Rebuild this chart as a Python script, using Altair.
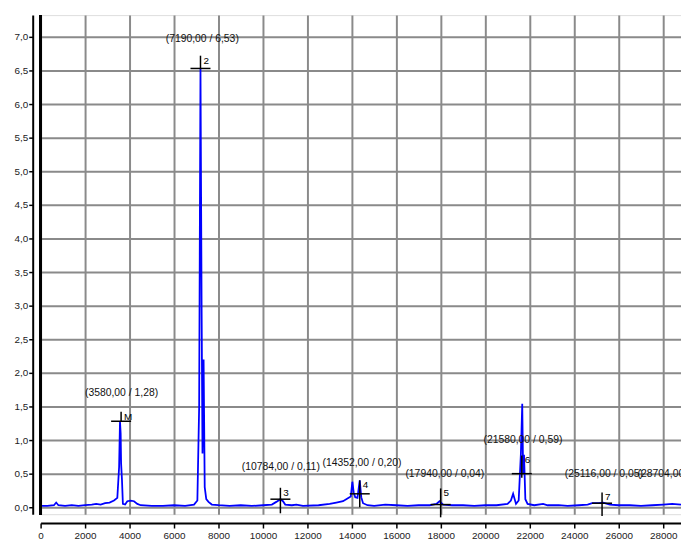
import altair as alt
import pandas as pd

# ---- trace ----
trace_x = [0, 300, 600, 700, 800, 1100, 1400, 1700, 2000, 2300, 2500, 2700, 2900, 3100, 3300,
           3450, 3530, 3570, 3600, 3620, 3660, 3700, 3800, 3900, 4050, 4200, 4350, 4500, 5000,
           5500, 6000, 6500, 6900, 7050, 7130, 7190, 7240, 7280, 7330, 7380, 7450, 7550, 7700,
           8000, 8500, 9000, 9500, 10000, 10400, 10600, 10784, 10900, 11000, 11300, 11500, 11800,
           12500, 13000, 13300, 13600, 13800, 13950, 14020, 14080, 14150, 14250, 14352, 14420,
           14500, 14700, 15000, 15500, 16000, 16500, 17000, 17500, 17800, 17940, 18100, 18500,
           19000, 19500, 20000, 20500, 21000, 21150, 21250, 21380, 21500, 21600, 21660, 21700,
           21740, 21800, 21900, 22200, 22600, 22800, 23300, 23700, 24200, 24600, 24800, 25100,
           25300, 25600, 26000, 26500, 27000, 27500, 28000, 28400, 28800]
trace_y = [0.02, 0.02, 0.03, 0.07, 0.03, 0.02, 0.03, 0.02, 0.03, 0.04, 0.05, 0.04, 0.06, 0.07, 0.10,
           0.14, 0.60, 1.28, 1.10, 0.65, 0.40, 0.05, 0.04, 0.09, 0.10, 0.09, 0.05, 0.03, 0.02,
           0.02, 0.03, 0.02, 0.04, 0.10, 1.50, 6.53, 3.00, 0.80, 2.20, 0.30, 0.12, 0.08, 0.04,
           0.03, 0.02, 0.03, 0.02, 0.03, 0.04, 0.08, 0.12, 0.09, 0.04, 0.03, 0.04, 0.02,
           0.03, 0.05, 0.07, 0.09, 0.13, 0.16, 0.38, 0.22, 0.15, 0.14, 0.40, 0.15,
           0.06, 0.03, 0.02, 0.04, 0.03, 0.02, 0.03, 0.03, 0.05, 0.09, 0.04, 0.03,
           0.03, 0.02, 0.03, 0.03, 0.05, 0.10, 0.20, 0.05, 0.10, 0.80, 1.54, 0.50,
           0.78, 0.12, 0.05, 0.03, 0.05, 0.03, 0.03, 0.02, 0.03, 0.04, 0.06, 0.06,
           0.07, 0.04, 0.03, 0.03, 0.02, 0.03, 0.04, 0.05, 0.04]

# ---- peak markers ----
marker_names = ["M", "2", "3", "4", "5", "6", "7"]
marker_x = [3620, 7190, 10784, 14352, 17990, 21640, 25250]
marker_y = [1.28, 6.53, 0.12, 0.20, 0.04, 0.50, 0.06]
marker_top = [1.42, 6.72, 0.29, 0.40, 0.28, 0.77, 0.22]
marker_bottom = [1.28, 6.53, -0.09, 0.00, -0.15, 0.44, -0.13]

# ---- peak coordinate labels ----
label_texts = ["(3580,00 / 1,28)", "(7190,00 / 6,53)", "(10784,00 / 0,11)", "(14352,00 / 0,20)",
               "(17940,00 / 0,04)", "(21580,00 / 0,59)", "(25116,00 / 0,05)", "(28704,00 / 0,04)"]
label_x = [3640, 7270, 10800, 14450, 18180, 21690, 25330, 28620]
label_y = [1.70, 6.97, 0.60, 0.66, 0.49, 1.00, 0.49, 0.49]

x_ticks = list(range(0, 28001, 2000))
y_ticks = [i * 0.5 for i in range(15)]

trace = pd.DataFrame({"x": trace_x, "y": trace_y})
markers = pd.DataFrame({"x": marker_x, "y": marker_y, "top": marker_top,
                        "bottom": marker_bottom, "name": marker_names})
labels = pd.DataFrame({"x": label_x, "y": label_y, "text": label_texts})

FONT = "Liberation Sans"
W, H = 648, 505
xscale = alt.Scale(domain=[0, 28800], nice=False, zero=False)
yscale = alt.Scale(domain=[-0.103, 7.324], nice=False, zero=False)

xaxis = alt.Axis(values=x_ticks, format="d", offset=9, domainColor="black", domainWidth=2,
                 tickColor="black", tickSize=5, tickWidth=1.5, labelFont=FONT, labelFontSize=10,
                 labelColor="#222222", labelPadding=3, grid=True, gridColor="#8a8a8a",
                 gridWidth=2, labelFlush=False, labelOverlap=False)
yaxis = alt.Axis(values=y_ticks, labelExpr="replace(format(datum.value, '.1f'), '.', ',')",
                 offset=8, domainColor="black", domainWidth=2, tickColor="black", tickSize=4,
                 tickWidth=1.5, labelFont=FONT, labelFontSize=10, labelColor="#222222",
                 labelPadding=1, grid=True, gridColor="#8a8a8a", gridWidth=2,
                 labelOverlap=False)


def X(field):
    return alt.X(field, type="quantitative", scale=xscale, axis=xaxis, title=None)


def Y(field):
    return alt.Y(field, type="quantitative", scale=yscale, axis=yaxis, title=None)


border = alt.Chart(trace).mark_rule(color="black", strokeWidth=2).encode(
    x=alt.value(0), y=alt.value(0), y2=alt.value(H))

line = alt.Chart(trace).mark_line(color="#0000ff", strokeWidth=1.8, clip=True).encode(
    x=X("x"), y=Y("y"))

hbars = alt.Chart(markers).transform_calculate(
    x1="datum.x - 450", x2="datum.x + 450").mark_rule(color="black", strokeWidth=1.5).encode(
    x=X("x1"), x2="x2:Q", y=Y("y"))

vbars = alt.Chart(markers).mark_rule(color="black", strokeWidth=1.5).encode(
    x=X("x"), y=Y("top"), y2="bottom:Q")

names = alt.Chart(markers).mark_text(align="left", baseline="top", dx=3, dy=0, font=FONT,
                                     fontSize=10, color="black").encode(
    x=X("x"), y=Y("top"), text="name:N")

coords = alt.Chart(labels).mark_text(align="center", baseline="middle", font=FONT,
                                     fontSize=10.5, color="#111111", clip=True).encode(
    x=X("x"), y=Y("y"), text="text:N")

chart = alt.layer(line, hbars, vbars, names, coords, border).properties(
    width=W, height=H,
    autosize=alt.AutoSizeParams(type="none"),
    padding={"left": 33, "top": 4, "right": 0, "bottom": 28},
).configure_view(stroke=None).configure(background="white")

chart.save("out.html", embed_options={"renderer": "svg", "actions": False})
